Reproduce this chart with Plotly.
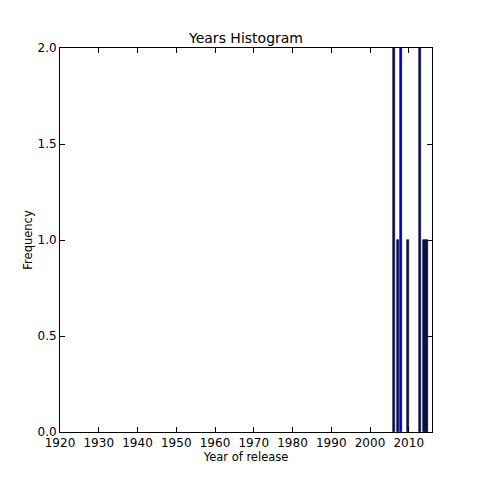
import plotly.graph_objects as go

# histogram bins (year ranges and counts)
bin_start = [2005.9, 2006.92, 2007.78, 2009.5, 2012.6, 2013.64, 2014.24, 2014.75]
bin_end = [2006.5, 2007.44, 2008.38, 2010.03, 2013.2, 2014.16, 2014.75, 2015.0]
counts = [2, 1, 2, 1, 2, 1, 1, 1]

x_ticks = [1920, 1930, 1940, 1950, 1960, 1970, 1980, 1990, 2000, 2010]
y_ticks = [0.0, 0.5, 1.0, 1.5, 2.0]

centers = [(a + b) / 2 for a, b in zip(bin_start, bin_end)]
widths = [b - a for a, b in zip(bin_start, bin_end)]

fig = go.Figure()
fig.add_bar(
    x=centers,
    y=counts,
    width=widths,
    marker=dict(color="#0000cc", line=dict(color="black", width=0.6)),
    showlegend=False,
)

axis_style = dict(
    showline=True,
    linecolor="black",
    linewidth=1,
    mirror="ticks",
    ticks="inside",
    ticklen=5,
    tickcolor="black",
    showgrid=False,
    zeroline=False,
    tickfont=dict(size=12, color="black"),
)

# the page body adds an 8px offset, so margins are shifted to compensate
fig.update_layout(
    width=480,
    height=480,
    paper_bgcolor="white",
    plot_bgcolor="white",
    font=dict(family="DejaVu Sans", color="black"),
    margin=dict(l=52, r=56, t=40, b=56),
    title=dict(
        text="Years Histogram",
        x=0.5,
        xref="paper",
        xanchor="center",
        y=1 - 30 / 480,
        yanchor="middle",
        font=dict(size=14, color="black"),
    ),
    bargap=0,
)
fig.update_xaxes(
    range=[1920, 2016],
    tickvals=x_ticks,
    title=dict(text="Year of release", font=dict(size=11.5), standoff=3),
    **axis_style,
)
fig.update_yaxes(
    range=[0, 2],
    tickvals=y_ticks,
    tickformat=".1f",
    title=dict(text="Frequency", font=dict(size=11.5), standoff=2),
    **axis_style,
)

fig.write_html("out.html")
